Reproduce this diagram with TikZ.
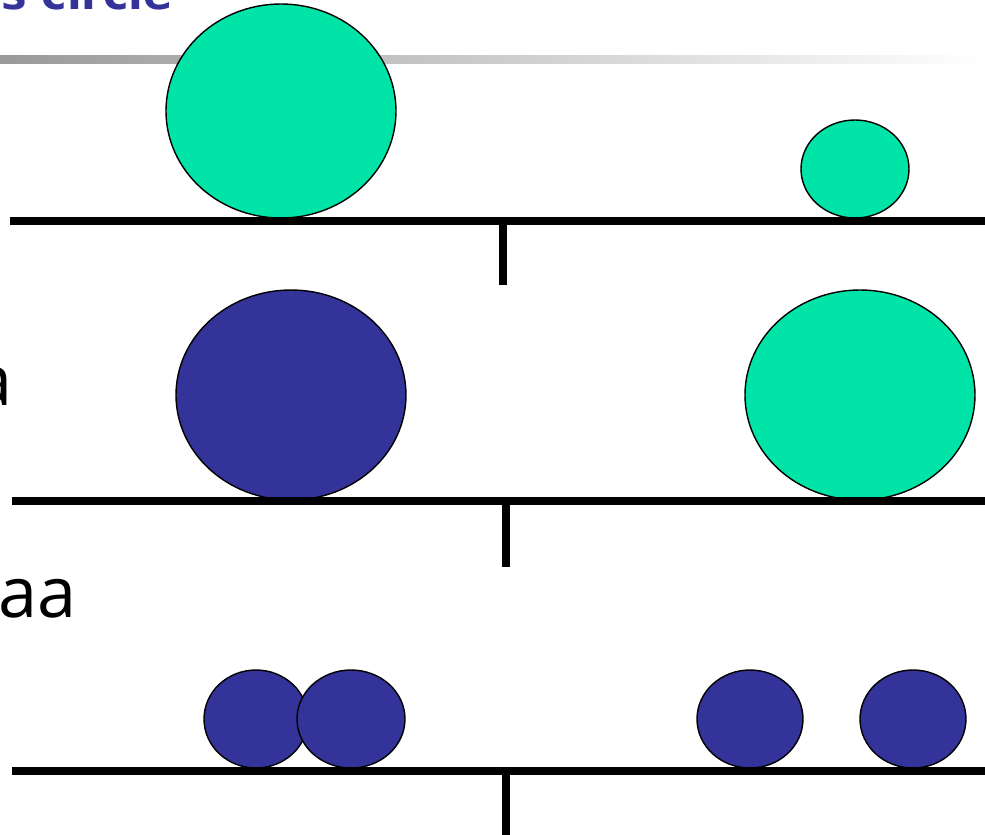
\documentclass[tikz,border=0pt]{standalone}
\usepackage{fontspec}
\setmainfont{Open Sans}
\newfontfamily\headfont{DejaVu Sans}
\usetikzlibrary{positioning}
\definecolor{massgreen}{RGB}{0,228,168}
\definecolor{massblue}{RGB}{51,51,153}
\tikzset{
  beam/.style={line width=4.6pt},
  pivot/.style={line width=4.6pt},
  wgt/.style={draw=black,line width=0.8pt},
  wgtG/.style={wgt,fill=massgreen},
  wgtB/.style={wgt,fill=massblue},
  cutlbl/.style={font=\fontsize{40}{48}\selectfont,inner sep=0pt},
}
\begin{document}
\begin{tikzpicture}[x=0.02cm,y=-0.02cm]
  \useasboundingbox (0,0) rectangle (985,835);
  % title rule and heading (cut at the top)
  \shade[left color=black!40,right color=white] (0,55) rectangle (985,63);
  \node[anchor=base east,inner sep=0pt,text=massblue,font=\headfont\bfseries\fontsize{24.5}{28}\selectfont] (title) at (173,10) {s circle};
  % row 1
  \coordinate (b1l) at (10,221);
  \coordinate (b1r) at (985,221);
  \coordinate (p1) at (503,221);
  \draw[wgtG] (281,111) ellipse [x radius=115,y radius=107];
  \draw[wgtG] (855,169) ellipse [x radius=54,y radius=49];
  \draw[beam] (b1l) -- (b1r);
  \draw[pivot] (p1) -- ++(0,64);
  % row 2
  \node[cutlbl,anchor=base east] (lblA) at (13,405) {a};
  \coordinate (b2l) at (12,501);
  \coordinate (b2r) at (985,501);
  \coordinate (p2) at (506,501);
  \draw[wgtB] (291,395) ellipse [x radius=115,y radius=105];
  \draw[wgtG] (860,395) ellipse [x radius=115,y radius=105];
  \draw[beam] (b2l) -- (b2r);
  \draw[pivot] (p2) -- ++(0,66);
  % row 3
  \node[cutlbl,anchor=base west] (lblAA) at (-2,617) {aa};
  \coordinate (b3l) at (12,771);
  \coordinate (b3r) at (985,771);
  \coordinate (p3) at (506,771);
  \draw[wgtB] (256,719) ellipse [x radius=52,y radius=49];
  \draw[wgtB] (351,719) ellipse [x radius=54,y radius=49];
  \draw[wgtB] (750,719) ellipse [x radius=53,y radius=49];
  \draw[wgtB] (913,719) ellipse [x radius=53,y radius=49];
  \draw[beam] (b3l) -- (b3r);
  \draw[pivot] (p3) -- ++(0,64);
\end{tikzpicture}
\end{document}
